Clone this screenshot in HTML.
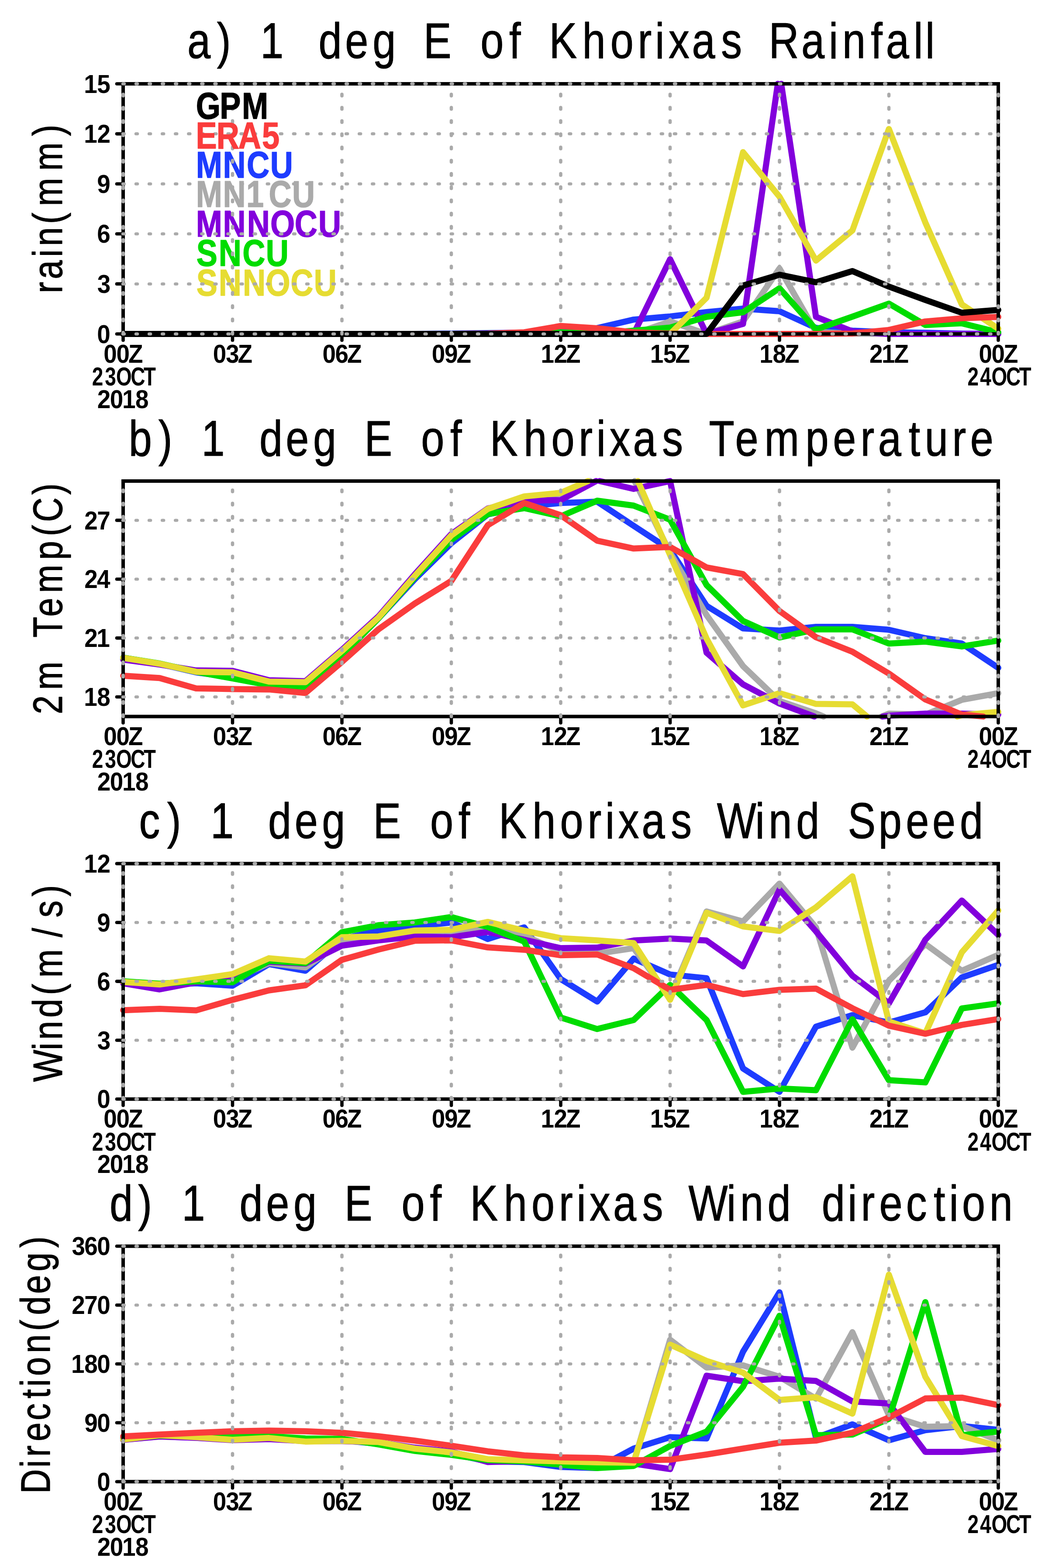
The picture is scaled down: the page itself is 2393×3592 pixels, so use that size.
<!DOCTYPE html>
<html lang="en"><head><meta charset="utf-8">
<title>1 deg E of Khorixas: Rainfall, Temperature, Wind Speed, Wind direction</title>
<style>
html,body{margin:0;padding:0;background:#fff}
svg{display:block}
text{font-family:"Liberation Sans",sans-serif;font-kerning:none;font-variant-ligatures:none;white-space:pre}
.ln{fill:none;stroke-width:14.0;stroke-linecap:round;stroke-linejoin:round}
.gh{fill:none;stroke:#aaaaaa;stroke-width:7;stroke-linecap:round;stroke-dasharray:3.5 26.57}
.gv{fill:none;stroke:#aaaaaa;stroke-width:7.6;stroke-linecap:round;stroke-dasharray:3.5 26.8}
.fr{fill:none;stroke:#000;stroke-width:8.0}
.tk{fill:none;stroke:#000;stroke-width:7.6;stroke-linecap:round}
</style></head>
<body>
<svg width="2393" height="3592" viewBox="0 0 2393 3592">
<rect width="2393" height="3592" fill="#fff"/>
<g id="panel-a">
<path class="ln" stroke="#1e3cff" d="M282 765 L365.5 765 L449 765 L532.5 765 L616 765 L699.5 765 L783 765 L866.5 765 L950 765 L1033.5 764.2 L1117 763.1 L1200.5 761.9 L1284 760.4 L1367.5 751.6 L1451 732.1 L1534.5 724.9 L1618 715 L1701.5 706.9 L1785 713 L1868.5 751.2 L1952 757.4 L2035.5 761.2 L2119 762.3 L2202.5 764.2 L2286 765"/>
<text transform="translate(0,407) scale(0.84,1)" x="534.2 607.6 672.6 736.7" y="0" font-size="86" font-weight="bold" fill="#1e3cff" stroke="#1e3cff" stroke-width="1.5" stroke-linejoin="round">MNCU</text>
<path class="ln" stroke="#aaaaaa" d="M282 765 L365.5 765 L449 765 L532.5 765 L616 765 L699.5 765 L783 765 L866.5 765 L950 765 L1033.5 765 L1117 765 L1200.5 765 L1284 765 L1367.5 765 L1451 765 L1534.5 736.4 L1618 765 L1701.5 736.4 L1785 614.9 L1868.5 760.4 L1952 764.2 L2035.5 765 L2119 765 L2202.5 765 L2286 765"/>
<text transform="translate(0,474.3) scale(0.84,1)" x="534.2 607.6 671.5 732.6 796.3" y="0" font-size="86" font-weight="bold" fill="#aaaaaa" stroke="#aaaaaa" stroke-width="1.5" stroke-linejoin="round">MN1CU</text>
<path class="ln" stroke="#8200dc" d="M282 765 L365.5 765 L449 765 L532.5 765 L616 765 L699.5 765 L783 765 L866.5 765 L950 765 L1033.5 765 L1117 765 L1200.5 765 L1284 765 L1367.5 765 L1451 765 L1534.5 593.9 L1618 765 L1701.5 742.1 L1781.1 192 M1789 192 L1868.5 725.7 L1952 759.3 L2035.5 765 L2119 765 L2202.5 765 L2286 765"/>
<text transform="translate(0,542.2) scale(0.84,1)" x="534.2 607.6 673.5 736.8 803.2 868" y="0" font-size="86" font-weight="bold" fill="#8200dc" stroke="#8200dc" stroke-width="1.5" stroke-linejoin="round">MNNOCU</text>
<path class="ln" stroke="#00dc00" d="M282 765 L365.5 765 L449 765 L532.5 765 L616 765 L699.5 765 L783 765 L866.5 765 L950 765 L1033.5 765 L1117 765 L1200.5 763.9 L1284 761.2 L1367.5 764.2 L1451 757.4 L1534.5 750.5 L1618 725.7 L1701.5 715.3 L1785 660.3 L1868.5 754.7 L1952 725.3 L2035.5 695.5 L2119 744.4 L2202.5 740.6 L2286 761.2"/>
<text transform="translate(0,608.7) scale(0.84,1)" x="535.5 596.2 660.9 724.8" y="0" font-size="86" font-weight="bold" fill="#00dc00" stroke="#00dc00" stroke-width="1.5" stroke-linejoin="round">SNCU</text>
<path class="ln" stroke="#e6dc32" d="M282 765 L365.5 765 L449 765 L532.5 765 L616 765 L699.5 765 L783 765 L866.5 765 L950 765 L1033.5 765 L1117 765 L1200.5 765 L1284 765 L1367.5 765 L1451 765 L1534.5 765 L1618 682.1 L1701.5 348.6 L1785 450.6 L1868.5 596.9 L1952 527.8 L2035.5 295.5 L2119 509.8 L2202.5 697.4 L2286 752.8"/>
<text transform="translate(0,676.8) scale(0.84,1)" x="535.5 596.2 661.8 724.3 792.1 855.7" y="0" font-size="86" font-weight="bold" fill="#e6dc32" stroke="#e6dc32" stroke-width="1.5" stroke-linejoin="round">SNNOCU</text>
<path class="ln" stroke="#fa3c3c" d="M282 765 L365.5 765 L449 765 L532.5 765 L616 765 L699.5 765 L783 765 L866.5 765 L950 765 L1033.5 765 L1117 764.2 L1200.5 761.2 L1284 746.7 L1367.5 752 L1451 761.2 L1534.5 764.2 L1618 765 L1701.5 765 L1785 765 L1868.5 765 L1952 763.9 L2035.5 755.8 L2119 736.4 L2202.5 729.1 L2286 726"/>
<path class="ln" stroke="#000000" d="M282 765 L365.5 765 L449 765 L532.5 765 L616 765 L699.5 765 L783 765 L866.5 765 L950 765 L1033.5 765 L1117 765 L1200.5 765 L1284 765 L1367.5 765 L1451 765 L1534.5 765 L1618 765 L1701.5 654.2 L1785 629.4 L1868.5 646.6 L1952 621 L2035.5 656.5 L2119 687.1 L2202.5 716.5 L2286 710"/>
<rect class="fr" x="282" y="192" width="2004" height="573"/>
<path class="tk" d="M267.5 765 H282"/>
<path class="tk" d="M267.5 650.4 H282"/>
<path class="tk" d="M267.5 535.8 H282"/>
<path class="tk" d="M267.5 421.2 H282"/>
<path class="tk" d="M267.5 306.6 H282"/>
<path class="tk" d="M267.5 192 H282"/>
<path class="tk" d="M282 765 V779.5"/>
<path class="tk" d="M532.5 765 V779.5"/>
<path class="tk" d="M783 765 V779.5"/>
<path class="tk" d="M1033.5 765 V779.5"/>
<path class="tk" d="M1284 765 V779.5"/>
<path class="tk" d="M1534.5 765 V779.5"/>
<path class="tk" d="M1785 765 V779.5"/>
<path class="tk" d="M2035.5 765 V779.5"/>
<path class="tk" d="M2286 765 V779.5"/>
<path class="gh" d="M281.2 765 H2288"/>
<path class="gh" d="M281.2 650.4 H2288"/>
<path class="gh" d="M281.2 535.8 H2288"/>
<path class="gh" d="M281.2 421.2 H2288"/>
<path class="gh" d="M281.2 306.6 H2288"/>
<path class="gh" d="M281.2 192 H2288"/>
<path class="gv" d="M282 765 V190"/>
<path class="gv" d="M532.5 765 V190"/>
<path class="gv" d="M783 765 V190"/>
<path class="gv" d="M1033.5 765 V190"/>
<path class="gv" d="M1284 765 V190"/>
<path class="gv" d="M1534.5 765 V190"/>
<path class="gv" d="M1785 765 V190"/>
<path class="gv" d="M2035.5 765 V190"/>
<path class="gv" d="M2286 765 V190"/>
<text transform="translate(0,339.6) scale(0.84,1)" x="533.9 590.2 649.7 714.4" y="0" font-size="86" font-weight="bold" fill="#fa3c3c" stroke="#fa3c3c" stroke-width="1.5" stroke-linejoin="round">ERA5</text>
<text transform="translate(0,271.9) scale(0.84,1)" x="534.3 599 659.6" y="0" font-size="86" font-weight="bold" fill="#000000" stroke="#000000" stroke-width="1.5" stroke-linejoin="round">GPM</text>
<text transform="translate(0,785.6) scale(0.93,1)" x="239.1" y="0" font-size="59" font-weight="bold" fill="#000">0</text>
<text transform="translate(0,671) scale(0.93,1)" x="239.4" y="0" font-size="59" font-weight="bold" fill="#000">3</text>
<text transform="translate(0,556.4) scale(0.93,1)" x="239" y="0" font-size="59" font-weight="bold" fill="#000">6</text>
<text transform="translate(0,441.8) scale(0.93,1)" x="239.1" y="0" font-size="59" font-weight="bold" fill="#000">9</text>
<text transform="translate(0,327.2) scale(0.93,1)" x="206.7 239.2" y="0" font-size="59" font-weight="bold" fill="#000">12</text>
<text transform="translate(0,212.6) scale(0.93,1)" x="206.7 238.9" y="0" font-size="59" font-weight="bold" fill="#000">15</text>
<text transform="translate(0,830.6) scale(0.93,1)" x="255.2 286.5 316.1" y="0" font-size="59" font-weight="bold" fill="#000">00Z</text>
<text transform="translate(0,830.6) scale(0.93,1)" x="524.6 556.2 585.5" y="0" font-size="59" font-weight="bold" fill="#000">03Z</text>
<text transform="translate(0,830.6) scale(0.93,1)" x="794 825.2 854.9" y="0" font-size="59" font-weight="bold" fill="#000">06Z</text>
<text transform="translate(0,830.6) scale(0.93,1)" x="1063.3 1094.6 1124.2" y="0" font-size="59" font-weight="bold" fill="#000">09Z</text>
<text transform="translate(0,830.6) scale(0.93,1)" x="1331.6 1364.1 1393.6" y="0" font-size="59" font-weight="bold" fill="#000">12Z</text>
<text transform="translate(0,830.6) scale(0.93,1)" x="1600.9 1633.2 1662.9" y="0" font-size="59" font-weight="bold" fill="#000">15Z</text>
<text transform="translate(0,830.6) scale(0.93,1)" x="1870.3 1902.6 1932.3" y="0" font-size="59" font-weight="bold" fill="#000">18Z</text>
<text transform="translate(0,830.6) scale(0.93,1)" x="2140.8 2170.9 2201.6" y="0" font-size="59" font-weight="bold" fill="#000">21Z</text>
<text transform="translate(0,830.6) scale(0.93,1)" x="2410.1 2441.4 2471" y="0" font-size="59" font-weight="bold" fill="#000">00Z</text>
<text transform="translate(0,882.7) scale(0.78,1)" x="270.3 308 340.9 383.8 421.6" y="0" font-size="59" font-weight="bold" fill="#000">23OCT</text>
<text transform="translate(0,934.6) scale(0.93,1)" x="239.6 270.8 301 333.3" y="0" font-size="59" font-weight="bold" fill="#000">2018</text>
<text transform="translate(0,882.7) scale(0.78,1)" x="2840.3 2877.3 2910.9 2953.8 2991.6" y="0" font-size="59" font-weight="bold" fill="#000">24OCT</text>
<text transform="translate(142.4,0) rotate(-90) scale(0.82,1)" x="-819.2 -780 -717.9 -687.6 -625.5 -576 -477 -380" y="0" font-size="95" fill="#000" stroke="#000" stroke-width="1.2" stroke-linejoin="round">rain(mm)</text>
<text transform="translate(0,133) scale(0.83,1)" x="516.8 598.4 636.7 718.4 782.3 878.8 952 1028.1 1092.1 1168.7 1245.4 1325.7 1404.7 1436.6 1515.1 1606.7 1683.9 1759.7 1807.6 1844.5 1909.1 1989.4 2046.9 2121 2210.8 2286.9 2324.1 2402.6 2444.3 2520.8 2552.9" y="0" font-size="115" fill="#000" stroke="#000" stroke-width="1.2" stroke-linejoin="round">a) 1 deg E of Khorixas Rainfall</text>
</g>
<g id="panel-b">
<path class="ln" stroke="#1e3cff" d="M282 1506.6 L365.5 1520.9 L449 1540.3 L532.5 1551.5 L616 1569.5 L699.5 1574 L783 1502.1 L866.5 1416.7 L950 1326.8 L1033.5 1244.5 L1117 1178.4 L1200.5 1160.4 L1284 1152.3 L1367.5 1149.2 L1451 1204.5 L1534.5 1259.3 L1618 1387.9 L1701.5 1439.6 L1785 1444.5 L1868.5 1436 L1952 1436 L2035.5 1442.7 L2119 1462 L2202.5 1474.2 L2286 1529.9"/>
<path class="ln" stroke="#aaaaaa" d="M282 1508.8 L365.5 1520.9 L449 1538 L532.5 1538.9 L616 1560.5 L699.5 1561.4 L783 1490.4 L866.5 1414 L950 1317.8 L1033.5 1225.6 L1117 1165.8 L1200.5 1138 L1284 1131.2 L1351.8 1102 M1453.2 1102 L1534.5 1266.5 L1618 1409 L1701.5 1525.9 L1785 1605.9 L1868.5 1634.2 L1886.1 1641.4 M2018.8 1641.4 L2035.5 1634.7 L2119 1636.9 L2202.5 1603.2 L2286 1587.9"/>
<path class="ln" stroke="#8200dc" d="M282 1511 L365.5 1522.3 L449 1535.8 L532.5 1536.7 L616 1558.2 L699.5 1560.5 L783 1488.6 L866.5 1412.2 L950 1315.5 L1033.5 1223.4 L1117 1164.9 L1200.5 1147 L1284 1145.6 L1365 1102 M1373.3 1102 L1451 1120 L1534.5 1102 L1618 1495.3 L1701.5 1567.7 L1785 1611.7 L1864.9 1641.4 M2021.6 1641.4 L2035.5 1639.6 L2119 1634.7 L2202.5 1634.7 L2286 1636.9"/>
<path class="ln" stroke="#00dc00" d="M282 1506.6 L365.5 1520 L449 1538.9 L532.5 1554.2 L616 1569.5 L699.5 1577.1 L783 1502.1 L866.5 1416.7 L950 1322.3 L1033.5 1236.8 L1117 1177.5 L1200.5 1164 L1284 1182.9 L1367.5 1147 L1451 1158.2 L1534.5 1190.6 L1618 1340.2 L1701.5 1422.5 L1785 1460.3 L1868.5 1441.8 L1952 1441.8 L2035.5 1474.2 L2119 1469.7 L2202.5 1480.9 L2286 1467.4"/>
<path class="ln" stroke="#e6dc32" d="M282 1507 L365.5 1520.5 L449 1538.9 L532.5 1540.3 L616 1561.4 L699.5 1562.7 L783 1491.3 L866.5 1414.9 L950 1319.1 L1033.5 1226.5 L1117 1165.8 L1200.5 1137.1 L1284 1129 L1346.6 1102 M1460.8 1102 L1534.5 1271.5 L1618 1462.9 L1701.5 1615.8 L1785 1587.9 L1868.5 1612.6 L1952 1613.5 L1985.4 1641.4 M2192.2 1641.4 L2202.5 1638.3 L2286 1630.6"/>
<path class="ln" stroke="#fa3c3c" d="M282 1547.9 L365.5 1553.3 L449 1577.1 L532.5 1578.5 L616 1579.4 L699.5 1587.5 L783 1516.4 L866.5 1441.8 L950 1382.5 L1033.5 1330.8 L1117 1203.1 L1200.5 1152.3 L1284 1180.2 L1367.5 1238.6 L1451 1256.6 L1534.5 1253 L1618 1299.8 L1701.5 1315.1 L1785 1399.6 L1868.5 1459.8 L1952 1493.1 L2035.5 1543 L2119 1602.3 L2202.5 1636.9 L2251.6 1641.4"/>
<rect class="fr" x="282" y="1102" width="2004" height="539.4"/>
<path class="tk" d="M267.5 1596.5 H282"/>
<path class="tk" d="M267.5 1461.6 H282"/>
<path class="tk" d="M267.5 1326.8 H282"/>
<path class="tk" d="M267.5 1191.9 H282"/>
<path class="tk" d="M282 1641.4 V1655.9"/>
<path class="tk" d="M532.5 1641.4 V1655.9"/>
<path class="tk" d="M783 1641.4 V1655.9"/>
<path class="tk" d="M1033.5 1641.4 V1655.9"/>
<path class="tk" d="M1284 1641.4 V1655.9"/>
<path class="tk" d="M1534.5 1641.4 V1655.9"/>
<path class="tk" d="M1785 1641.4 V1655.9"/>
<path class="tk" d="M2035.5 1641.4 V1655.9"/>
<path class="tk" d="M2286 1641.4 V1655.9"/>
<path class="gh" d="M281.2 1596.5 H2288"/>
<path class="gh" d="M281.2 1461.6 H2288"/>
<path class="gh" d="M281.2 1326.8 H2288"/>
<path class="gh" d="M281.2 1191.9 H2288"/>
<path class="gv" d="M282 1641.4 V1100"/>
<path class="gv" d="M532.5 1641.4 V1100"/>
<path class="gv" d="M783 1641.4 V1100"/>
<path class="gv" d="M1033.5 1641.4 V1100"/>
<path class="gv" d="M1284 1641.4 V1100"/>
<path class="gv" d="M1534.5 1641.4 V1100"/>
<path class="gv" d="M1785 1641.4 V1100"/>
<path class="gv" d="M2035.5 1641.4 V1100"/>
<path class="gv" d="M2286 1641.4 V1100"/>
<text transform="translate(0,1617) scale(0.93,1)" x="206.7 239" y="0" font-size="59" font-weight="bold" fill="#000">18</text>
<text transform="translate(0,1482.2) scale(0.93,1)" x="207.9 238" y="0" font-size="59" font-weight="bold" fill="#000">21</text>
<text transform="translate(0,1347.3) scale(0.93,1)" x="207.9 238.7" y="0" font-size="59" font-weight="bold" fill="#000">24</text>
<text transform="translate(0,1212.5) scale(0.93,1)" x="207.9 239.1" y="0" font-size="59" font-weight="bold" fill="#000">27</text>
<text transform="translate(0,1707) scale(0.93,1)" x="255.2 286.5 316.1" y="0" font-size="59" font-weight="bold" fill="#000">00Z</text>
<text transform="translate(0,1707) scale(0.93,1)" x="524.6 556.2 585.5" y="0" font-size="59" font-weight="bold" fill="#000">03Z</text>
<text transform="translate(0,1707) scale(0.93,1)" x="794 825.2 854.9" y="0" font-size="59" font-weight="bold" fill="#000">06Z</text>
<text transform="translate(0,1707) scale(0.93,1)" x="1063.3 1094.6 1124.2" y="0" font-size="59" font-weight="bold" fill="#000">09Z</text>
<text transform="translate(0,1707) scale(0.93,1)" x="1331.6 1364.1 1393.6" y="0" font-size="59" font-weight="bold" fill="#000">12Z</text>
<text transform="translate(0,1707) scale(0.93,1)" x="1600.9 1633.2 1662.9" y="0" font-size="59" font-weight="bold" fill="#000">15Z</text>
<text transform="translate(0,1707) scale(0.93,1)" x="1870.3 1902.6 1932.3" y="0" font-size="59" font-weight="bold" fill="#000">18Z</text>
<text transform="translate(0,1707) scale(0.93,1)" x="2140.8 2170.9 2201.6" y="0" font-size="59" font-weight="bold" fill="#000">21Z</text>
<text transform="translate(0,1707) scale(0.93,1)" x="2410.1 2441.4 2471" y="0" font-size="59" font-weight="bold" fill="#000">00Z</text>
<text transform="translate(0,1759.1) scale(0.78,1)" x="270.3 308 340.9 383.8 421.6" y="0" font-size="59" font-weight="bold" fill="#000">23OCT</text>
<text transform="translate(0,1811) scale(0.93,1)" x="239.6 270.8 301 333.3" y="0" font-size="59" font-weight="bold" fill="#000">2018</text>
<text transform="translate(0,1759.1) scale(0.78,1)" x="2840.3 2877.3 2910.9 2953.8 2991.6" y="0" font-size="59" font-weight="bold" fill="#000">24OCT</text>
<text transform="translate(142,0) rotate(-90) scale(0.82,1)" x="-1995.5 -1927.3 -1848.1 -1781 -1722.8 -1656.8 -1563.9 -1497.8 -1458.2 -1382.1" y="0" font-size="95" fill="#000" stroke="#000" stroke-width="1.2" stroke-linejoin="round">2m Temp(C)</text>
<text transform="translate(0,1043.6) scale(0.83,1)" x="355 437.2 475.5 556 620 715.6 788.3 863.8 927.8 1005.4 1082.1 1161.6 1242.2 1274.1 1351.7 1444.9 1521.1 1596.8 1645.4 1681.6 1746.4 1826.9 1884.4 1956 2028.4 2109 2222.2 2298 2374 2422.7 2506.8 2551.6 2627.2 2676.7" y="0" font-size="115" fill="#000" stroke="#000" stroke-width="1.2" stroke-linejoin="round">b) 1 deg E of Khorixas Temperature</text>
</g>
<g id="panel-c">
<path class="ln" stroke="#1e3cff" d="M282 2250.3 L365.5 2257.1 L449 2252.6 L532.5 2258 L616 2208.5 L699.5 2223.8 L783 2151 L866.5 2132.1 L950 2122.2 L1033.5 2113.2 L1117 2151 L1200.5 2124.5 L1284 2242.7 L1367.5 2294.4 L1451 2196 L1534.5 2232.4 L1618 2240.9 L1701.5 2447.7 L1785 2501.2 L1868.5 2351.9 L1952 2325.4 L2035.5 2342.5 L2119 2319.1 L2202.5 2239.1 L2286 2210.3"/>
<path class="ln" stroke="#aaaaaa" d="M282 2250.3 L365.5 2257.1 L449 2248.1 L532.5 2243.6 L616 2206.3 L699.5 2216.2 L783 2156.9 L866.5 2149.2 L950 2141.6 L1033.5 2138.9 L1117 2126.3 L1200.5 2143.4 L1284 2179.8 L1367.5 2184.7 L1451 2172.1 L1534.5 2284.1 L1618 2088.1 L1701.5 2111 L1785 2024.2 L1868.5 2124.5 L1952 2400 L2035.5 2246.8 L2119 2162.7 L2202.5 2223.8 L2286 2187.4"/>
<path class="ln" stroke="#8200dc" d="M282 2252.6 L365.5 2266.5 L449 2250.3 L532.5 2240.9 L616 2203.2 L699.5 2207.6 L783 2166.3 L866.5 2154.2 L950 2145.2 L1033.5 2147 L1117 2134.8 L1200.5 2152.8 L1284 2172.1 L1367.5 2170.8 L1451 2154.6 L1534.5 2150.1 L1618 2154.6 L1701.5 2213.9 L1785 2038.2 L1868.5 2133.5 L1952 2235.1 L2035.5 2298.4 L2119 2152.8 L2202.5 2062.9 L2286 2141.6"/>
<path class="ln" stroke="#00dc00" d="M282 2248.1 L365.5 2253.5 L449 2248.1 L532.5 2250.3 L616 2200.9 L699.5 2206.3 L783 2135.7 L866.5 2119.5 L950 2113.2 L1033.5 2100.7 L1117 2123.6 L1200.5 2156.9 L1284 2330.8 L1367.5 2357.3 L1451 2336.7 L1534.5 2256.2 L1618 2336.7 L1701.5 2501.2 L1785 2493.5 L1868.5 2497.6 L1952 2334.9 L2035.5 2474.6 L2119 2479.6 L2202.5 2310.1 L2286 2298.4"/>
<path class="ln" stroke="#e6dc32" d="M282 2249.4 L365.5 2255.3 L449 2243.6 L532.5 2231.5 L616 2195.1 L699.5 2202.7 L783 2147 L866.5 2145.2 L950 2131.7 L1033.5 2129.9 L1117 2111.9 L1200.5 2132.1 L1284 2149.2 L1367.5 2154.2 L1451 2160.4 L1534.5 2290.4 L1618 2090.8 L1701.5 2122.2 L1785 2132.6 L1868.5 2078.6 L1952 2007.6 L2035.5 2340.2 L2119 2367.2 L2202.5 2181.6 L2286 2085.8"/>
<path class="ln" stroke="#fa3c3c" d="M282 2314.2 L365.5 2311 L449 2314.6 L532.5 2290.4 L616 2268.8 L699.5 2257.1 L783 2198.7 L866.5 2175.3 L950 2155.1 L1033.5 2154.2 L1117 2170.3 L1200.5 2175.7 L1284 2188.3 L1367.5 2186.5 L1451 2218 L1534.5 2267.4 L1618 2256.2 L1701.5 2277.3 L1785 2267.4 L1868.5 2264.7 L1952 2309.7 L2035.5 2349.7 L2119 2368.1 L2202.5 2347.9 L2286 2334.4"/>
<rect class="fr" x="282" y="1978.4" width="2004" height="539.4"/>
<path class="tk" d="M267.5 2517.8 H282"/>
<path class="tk" d="M267.5 2383 H282"/>
<path class="tk" d="M267.5 2248.1 H282"/>
<path class="tk" d="M267.5 2113.2 H282"/>
<path class="tk" d="M267.5 1978.4 H282"/>
<path class="tk" d="M282 2517.8 V2532.3"/>
<path class="tk" d="M532.5 2517.8 V2532.3"/>
<path class="tk" d="M783 2517.8 V2532.3"/>
<path class="tk" d="M1033.5 2517.8 V2532.3"/>
<path class="tk" d="M1284 2517.8 V2532.3"/>
<path class="tk" d="M1534.5 2517.8 V2532.3"/>
<path class="tk" d="M1785 2517.8 V2532.3"/>
<path class="tk" d="M2035.5 2517.8 V2532.3"/>
<path class="tk" d="M2286 2517.8 V2532.3"/>
<path class="gh" d="M281.2 2517.8 H2288"/>
<path class="gh" d="M281.2 2383 H2288"/>
<path class="gh" d="M281.2 2248.1 H2288"/>
<path class="gh" d="M281.2 2113.2 H2288"/>
<path class="gh" d="M281.2 1978.4 H2288"/>
<path class="gv" d="M282 2517.8 V1976.4"/>
<path class="gv" d="M532.5 2517.8 V1976.4"/>
<path class="gv" d="M783 2517.8 V1976.4"/>
<path class="gv" d="M1033.5 2517.8 V1976.4"/>
<path class="gv" d="M1284 2517.8 V1976.4"/>
<path class="gv" d="M1534.5 2517.8 V1976.4"/>
<path class="gv" d="M1785 2517.8 V1976.4"/>
<path class="gv" d="M2035.5 2517.8 V1976.4"/>
<path class="gv" d="M2286 2517.8 V1976.4"/>
<text transform="translate(0,2538.4) scale(0.93,1)" x="239.1" y="0" font-size="59" font-weight="bold" fill="#000">0</text>
<text transform="translate(0,2403.6) scale(0.93,1)" x="239.4" y="0" font-size="59" font-weight="bold" fill="#000">3</text>
<text transform="translate(0,2268.7) scale(0.93,1)" x="239" y="0" font-size="59" font-weight="bold" fill="#000">6</text>
<text transform="translate(0,2133.8) scale(0.93,1)" x="239.1" y="0" font-size="59" font-weight="bold" fill="#000">9</text>
<text transform="translate(0,1999) scale(0.93,1)" x="206.7 239.2" y="0" font-size="59" font-weight="bold" fill="#000">12</text>
<text transform="translate(0,2583.4) scale(0.93,1)" x="255.2 286.5 316.1" y="0" font-size="59" font-weight="bold" fill="#000">00Z</text>
<text transform="translate(0,2583.4) scale(0.93,1)" x="524.6 556.2 585.5" y="0" font-size="59" font-weight="bold" fill="#000">03Z</text>
<text transform="translate(0,2583.4) scale(0.93,1)" x="794 825.2 854.9" y="0" font-size="59" font-weight="bold" fill="#000">06Z</text>
<text transform="translate(0,2583.4) scale(0.93,1)" x="1063.3 1094.6 1124.2" y="0" font-size="59" font-weight="bold" fill="#000">09Z</text>
<text transform="translate(0,2583.4) scale(0.93,1)" x="1331.6 1364.1 1393.6" y="0" font-size="59" font-weight="bold" fill="#000">12Z</text>
<text transform="translate(0,2583.4) scale(0.93,1)" x="1600.9 1633.2 1662.9" y="0" font-size="59" font-weight="bold" fill="#000">15Z</text>
<text transform="translate(0,2583.4) scale(0.93,1)" x="1870.3 1902.6 1932.3" y="0" font-size="59" font-weight="bold" fill="#000">18Z</text>
<text transform="translate(0,2583.4) scale(0.93,1)" x="2140.8 2170.9 2201.6" y="0" font-size="59" font-weight="bold" fill="#000">21Z</text>
<text transform="translate(0,2583.4) scale(0.93,1)" x="2410.1 2441.4 2471" y="0" font-size="59" font-weight="bold" fill="#000">00Z</text>
<text transform="translate(0,2635.5) scale(0.78,1)" x="270.3 308 340.9 383.8 421.6" y="0" font-size="59" font-weight="bold" fill="#000">23OCT</text>
<text transform="translate(0,2687.4) scale(0.93,1)" x="239.6 270.8 301 333.3" y="0" font-size="59" font-weight="bold" fill="#000">2018</text>
<text transform="translate(0,2635.5) scale(0.78,1)" x="2840.3 2877.3 2910.9 2953.8 2991.6" y="0" font-size="59" font-weight="bold" fill="#000">24OCT</text>
<text transform="translate(142,0) rotate(-90) scale(0.82,1)" x="-3022.2 -2933.7 -2904.9 -2843 -2779.9 -2731.1 -2618.7 -2563.2 -2504.4" y="0" font-size="95" fill="#000" stroke="#000" stroke-width="1.2" stroke-linejoin="round">Wind(m/s)</text>
<text transform="translate(0,1919.8) scale(0.83,1)" x="383.8 461.2 499.5 580.7 644.6 739.7 812.9 888.4 952.4 1029.5 1106.2 1186.8 1264.9 1296.8 1376.3 1468.9 1545.1 1621.1 1670 1705.6 1770.6 1850.8 1908.3 1978.1 2083.8 2120.8 2196.7 2260.6 2339.2 2423.9 2499 2572.2 2648.3" y="0" font-size="115" fill="#000" stroke="#000" stroke-width="1.2" stroke-linejoin="round">c) 1 deg E of Khorixas Wind Speed</text>
</g>
<g id="panel-d">
<path class="ln" stroke="#1e3cff" d="M282 3295.3 L365.5 3289.3 L449 3292.3 L532.5 3295.3 L616 3295.3 L699.5 3298.3 L783 3299.8 L866.5 3307.3 L950 3319.3 L1033.5 3329.8 L1117 3347.8 L1200.5 3349.2 L1284 3360.5 L1367.5 3363 L1451 3318.5 L1534.5 3292.3 L1618 3295.3 L1701.5 3096.5 L1785 2960.4 L1868.5 3293.5 L1952 3262.9 L2035.5 3299.4 L2119 3276.3 L2202.5 3266.8 L2286 3275.5"/>
<path class="ln" stroke="#aaaaaa" d="M282 3298.3 L365.5 3290.8 L449 3293.8 L532.5 3298.3 L616 3295.3 L699.5 3301.3 L783 3301.3 L866.5 3304.3 L950 3317.8 L1033.5 3326.8 L1117 3343.3 L1200.5 3346.3 L1284 3349.2 L1367.5 3350.7 L1451 3350.7 L1534.5 3069.1 L1618 3132.7 L1701.5 3127.8 L1785 3154 L1868.5 3203.9 L1952 3051.8 L2035.5 3242 L2119 3268.6 L2202.5 3266.8 L2286 3299.4"/>
<path class="ln" stroke="#8200dc" d="M282 3298.3 L365.5 3290.8 L449 3293.8 L532.5 3299.1 L616 3296.8 L699.5 3301.3 L783 3301.3 L866.5 3303.6 L950 3316.3 L1033.5 3325.3 L1117 3349.2 L1200.5 3347 L1284 3350 L1367.5 3352.2 L1451 3352.8 L1534.5 3365.4 L1618 3151.5 L1701.5 3164.2 L1785 3158.2 L1868.5 3163.5 L1952 3210.4 L2035.5 3215.1 L2119 3326 L2202.5 3326 L2286 3319.3"/>
<path class="ln" stroke="#00dc00" d="M282 3296.8 L365.5 3288.6 L449 3290.8 L532.5 3290.8 L616 3290.1 L699.5 3295.3 L783 3296.1 L866.5 3308.8 L950 3323.8 L1033.5 3332.8 L1117 3344.8 L1200.5 3347.8 L1284 3355.2 L1367.5 3363 L1451 3358.2 L1534.5 3312.4 L1618 3279.6 L1701.5 3176.9 L1785 3014.2 L1868.5 3287.8 L1952 3286.3 L2035.5 3250.4 L2119 2982.9 L2202.5 3287.8 L2286 3279.4"/>
<path class="ln" stroke="#e6dc32" d="M282 3297.6 L365.5 3287.8 L449 3292.3 L532.5 3298.3 L616 3294.1 L699.5 3302.4 L783 3300.7 L866.5 3303.3 L950 3318.5 L1033.5 3327.2 L1117 3342.7 L1200.5 3345.2 L1284 3347.8 L1367.5 3350 L1451 3350.7 L1534.5 3080.4 L1618 3117.6 L1701.5 3144.3 L1785 3206.9 L1868.5 3200.8 L1952 3238.4 L2035.5 2920 L2119 3153.9 L2202.5 3289.8 L2286 3312.7"/>
<path class="ln" stroke="#fa3c3c" d="M282 3290.5 L365.5 3286.3 L449 3282.3 L532.5 3278.8 L616 3277.3 L699.5 3278.8 L783 3282.3 L866.5 3290.1 L950 3300.3 L1033.5 3311.9 L1117 3324.7 L1200.5 3334 L1284 3338.5 L1367.5 3340.1 L1451 3345.2 L1534.5 3343.9 L1618 3332 L1701.5 3318.4 L1785 3305 L1868.5 3300.1 L1952 3282.1 L2035.5 3247.1 L2119 3203.6 L2202.5 3201.7 L2286 3218.9"/>
<rect class="fr" x="282" y="2854.8" width="2004" height="539.4"/>
<path class="tk" d="M267.5 3394.2 H282"/>
<path class="tk" d="M267.5 3259.3 H282"/>
<path class="tk" d="M267.5 3124.5 H282"/>
<path class="tk" d="M267.5 2989.7 H282"/>
<path class="tk" d="M267.5 2854.8 H282"/>
<path class="tk" d="M282 3394.2 V3408.7"/>
<path class="tk" d="M532.5 3394.2 V3408.7"/>
<path class="tk" d="M783 3394.2 V3408.7"/>
<path class="tk" d="M1033.5 3394.2 V3408.7"/>
<path class="tk" d="M1284 3394.2 V3408.7"/>
<path class="tk" d="M1534.5 3394.2 V3408.7"/>
<path class="tk" d="M1785 3394.2 V3408.7"/>
<path class="tk" d="M2035.5 3394.2 V3408.7"/>
<path class="tk" d="M2286 3394.2 V3408.7"/>
<path class="gh" d="M281.2 3394.2 H2288"/>
<path class="gh" d="M281.2 3259.3 H2288"/>
<path class="gh" d="M281.2 3124.5 H2288"/>
<path class="gh" d="M281.2 2989.7 H2288"/>
<path class="gh" d="M281.2 2854.8 H2288"/>
<path class="gv" d="M282 3394.2 V2852.8"/>
<path class="gv" d="M532.5 3394.2 V2852.8"/>
<path class="gv" d="M783 3394.2 V2852.8"/>
<path class="gv" d="M1033.5 3394.2 V2852.8"/>
<path class="gv" d="M1284 3394.2 V2852.8"/>
<path class="gv" d="M1534.5 3394.2 V2852.8"/>
<path class="gv" d="M1785 3394.2 V2852.8"/>
<path class="gv" d="M2035.5 3394.2 V2852.8"/>
<path class="gv" d="M2286 3394.2 V2852.8"/>
<text transform="translate(0,3414.8) scale(0.93,1)" x="239.1" y="0" font-size="59" font-weight="bold" fill="#000">0</text>
<text transform="translate(0,3279.9) scale(0.93,1)" x="207.8 239.1" y="0" font-size="59" font-weight="bold" fill="#000">90</text>
<text transform="translate(0,3145.1) scale(0.93,1)" x="175.4 207.7 239.1" y="0" font-size="59" font-weight="bold" fill="#000">180</text>
<text transform="translate(0,3010.2) scale(0.93,1)" x="176.6 207.8 239.1" y="0" font-size="59" font-weight="bold" fill="#000">270</text>
<text transform="translate(0,2875.4) scale(0.93,1)" x="176.8 207.7 239.1" y="0" font-size="59" font-weight="bold" fill="#000">360</text>
<text transform="translate(0,3459.8) scale(0.93,1)" x="255.2 286.5 316.1" y="0" font-size="59" font-weight="bold" fill="#000">00Z</text>
<text transform="translate(0,3459.8) scale(0.93,1)" x="524.6 556.2 585.5" y="0" font-size="59" font-weight="bold" fill="#000">03Z</text>
<text transform="translate(0,3459.8) scale(0.93,1)" x="794 825.2 854.9" y="0" font-size="59" font-weight="bold" fill="#000">06Z</text>
<text transform="translate(0,3459.8) scale(0.93,1)" x="1063.3 1094.6 1124.2" y="0" font-size="59" font-weight="bold" fill="#000">09Z</text>
<text transform="translate(0,3459.8) scale(0.93,1)" x="1331.6 1364.1 1393.6" y="0" font-size="59" font-weight="bold" fill="#000">12Z</text>
<text transform="translate(0,3459.8) scale(0.93,1)" x="1600.9 1633.2 1662.9" y="0" font-size="59" font-weight="bold" fill="#000">15Z</text>
<text transform="translate(0,3459.8) scale(0.93,1)" x="1870.3 1902.6 1932.3" y="0" font-size="59" font-weight="bold" fill="#000">18Z</text>
<text transform="translate(0,3459.8) scale(0.93,1)" x="2140.8 2170.9 2201.6" y="0" font-size="59" font-weight="bold" fill="#000">21Z</text>
<text transform="translate(0,3459.8) scale(0.93,1)" x="2410.1 2441.4 2471" y="0" font-size="59" font-weight="bold" fill="#000">00Z</text>
<text transform="translate(0,3511.9) scale(0.78,1)" x="270.3 308 340.9 383.8 421.6" y="0" font-size="59" font-weight="bold" fill="#000">23OCT</text>
<text transform="translate(0,3563.8) scale(0.93,1)" x="239.6 270.8 301 333.3" y="0" font-size="59" font-weight="bold" fill="#000">2018</text>
<text transform="translate(0,3511.9) scale(0.78,1)" x="2840.3 2877.3 2910.9 2953.8 2991.6" y="0" font-size="59" font-weight="bold" fill="#000">24OCT</text>
<text transform="translate(113.5,0) rotate(-90) scale(0.82,1)" x="-4173 -4099.9 -4069.8 -4026.6 -3968.1 -3907 -3873.8 -3843.9 -3780.5 -3718.4 -3673.9 -3614.7 -3551.8 -3485.8" y="0" font-size="95" fill="#000" stroke="#000" stroke-width="1.2" stroke-linejoin="round">Direction(deg)</text>
<text transform="translate(0,2796) scale(0.83,1)" x="302.4 381.1 419.4 501.7 565.6 660.7 734 809.5 873.5 950.5 1027.2 1107.8 1186 1218 1297.1 1390 1466.2 1542.1 1591.1 1626.6 1691.7 1771.9 1829.4 1899.3 2004.8 2042.3 2117.5 2181.5 2267.3 2339 2375.2 2425.9 2499.7 2575.9 2618.6 2654.1 2729.7" y="0" font-size="115" fill="#000" stroke="#000" stroke-width="1.2" stroke-linejoin="round">d) 1 deg E of Khorixas Wind direction</text>
</g>
</svg>
</body></html>
